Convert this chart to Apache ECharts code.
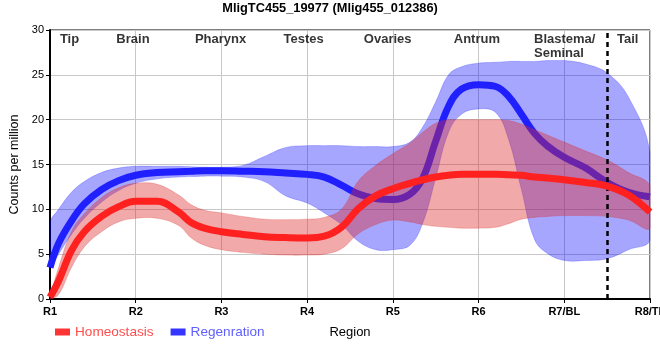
<!DOCTYPE html>
<html>
<head>
<meta charset="utf-8">
<script src="https://cdn.jsdelivr.net/npm/echarts@6/dist/echarts.min.js"></script>
<style>html,body{margin:0;padding:0;background:#fff;}#c{width:660px;height:360px;}</style>
</head>
<body>
<div id="c"></div>
<script>
const titleText = 'MligTC455_19977 (Mlig455_012386)';
const tickLabels = ['R1','R2','R3','R4','R5','R6','R7/BL','R8/TL'];
const regionNames = ['Tip','Brain','Pharynx','Testes','Ovaries','Antrum','Blastema/\nSeminal','Tail'];
const regionPos = [1.228,1.968,2.99,3.96,4.94,5.98,6.647,7.74];
const regionLabelY = 29.75;
const dividerX = 7.5;

const xs = [1,1.1,1.25,1.4,1.6,1.8, 2,2.25,2.5,2.65,2.8, 3,3.25,3.5,3.75, 4,4.2,4.4,4.6,4.8, 5,5.2,5.35,5.5,5.65,5.8, 6,6.2,6.35,6.5,6.65,6.8, 7,7.25,7.5,7.75, 8];

const homMean  = [0.2,2.0,5.4,7.5,9.2,10.3, 10.9,10.9,9.7,8.5,7.9, 7.5,7.2,6.95,6.85, 6.8,7.0,8.0,10.1,11.5, 12.3,12.9,13.3,13.6,13.8,13.9, 13.9,13.9,13.85,13.8,13.6,13.5, 13.3,13.0,12.6,11.6, 9.7];
const homUpper = [0.2,3.5,7.5,9.5,11.3,12.4, 12.9,12.8,11.6,10.5,9.9, 9.6,9.2,8.9,8.85, 8.9,9.1,10.0,13.2,14.9, 16.2,17.4,18.6,19.6,20.0,20.0, 20.0,20.0,19.9,19.5,18.9,18.3, 17.5,16.5,15.5,14.1, 12.6];
const homLower = [0.0,0.5,3.5,5.8,7.5,8.6, 9.0,9.0,8.2,6.8,6.0, 5.5,5.2,5.0,4.9, 4.9,5.0,5.6,7.3,8.3, 8.8,8.6,8.3,8.1,8.0,7.9, 7.9,8.0,8.4,8.9,9.1,9.2, 9.3,9.3,9.2,8.8, 7.9];

const regMean  = [3.5,6.2,8.7,10.6,12.2,13.2, 13.8,14.1,14.2,14.25,14.3, 14.3,14.25,14.2,14.05, 13.9,13.6,12.7,11.7,11.2, 11.1,11.7,13.5,17.6,21.5,23.4, 23.9,23.7,22.6,20.6,18.5,17.1, 15.8,14.6,13.0,11.9, 11.4];
const regUpper = [8.5,10.0,11.9,13.1,14.1,14.6, 14.8,14.8,14.8,14.75,14.7, 14.7,14.9,15.9,16.9, 17.1,17.1,17.1,17.0,17.0, 17.0,17.5,19.2,22.0,25.0,25.9, 26.3,26.4,26.5,26.5,26.5,26.6, 26.6,26.2,25.2,22.5, 16.3];
const regLower = [3.5,5.0,7.2,9.0,10.8,12.1, 12.9,13.4,13.6,13.65,13.7, 13.7,13.6,13.1,11.5, 10.7,9.6,8.3,6.4,5.5, 5.5,6.0,8.5,13.5,18.6,20.6, 21.2,20.8,17.8,12.2,6.7,5.1, 4.3,4.3,4.5,5.5, 6.6];

const pair = arr => xs.map((x,i)=>[x, arr[i]]);

const RED = '#FF2020', BLUE = '#2020FF';
const SM = 0.4;
const FONT = 'Liberation Sans, Arial, sans-serif';

function bandSeries(name, lower, upper, fill, stroke, z) {
  return {
    name: name, type: 'custom', z: z, silent: true,
    data: xs.map((x,i)=>[x, lower[i], upper[i]]),
    encode: {x: 0, y: [1, 2]},
    renderItem: function (params, api) {
      if (params.dataIndex !== 0) return null;
      const pts = [];
      for (let i = 0; i < xs.length; i++) pts.push(api.coord([xs[i], upper[i]]));
      for (let i = xs.length - 1; i >= 0; i--) pts.push(api.coord([xs[i], lower[i]]));
      let minX = Infinity, minY = Infinity, maxX = -Infinity, maxY = -Infinity;
      pts.forEach(p => { minX = Math.min(minX, p[0]); minY = Math.min(minY, p[1]); maxX = Math.max(maxX, p[0]); maxY = Math.max(maxY, p[1]); });
      return {
        type: 'polygon',
        shape: {points: pts, smooth: SM, smoothConstraint: [[minX, minY], [maxX, maxY]]},
        style: {fill: fill, stroke: stroke, lineWidth: 1}
      };
    }
  };
}

const chart = echarts.init(document.getElementById('c'), null, {renderer:'canvas'});
chart.setOption({
  animation: false,
  backgroundColor: '#fff',
  title: {text: titleText, left: 'center', top: 2, padding: 0,
    textStyle:{fontFamily: FONT, fontSize:12.8, fontWeight:'bold', color:'#000'}},
  grid: {left: 50, right: 10, top: 30, bottom: 61, outerBoundsMode: 'none', containLabel: false,
    show: true, borderColor: '#000', borderWidth: 1, backgroundColor:'transparent'},
  legend: {
    left: 50, top: 320, icon: 'rect', itemWidth: 15, itemHeight: 7, itemGap: 17,
    textStyle: {fontFamily: FONT, fontSize: 13.6},
    data: [
      {name:'Homeostasis', textStyle:{color:'#FF4D4D'}},
      {name:'Regenration', textStyle:{color:'#5F5FFF'}}
    ]
  },
  xAxis: {
    type: 'value', min: 1, max: 8, interval: 1,
    name: 'Region', nameLocation: 'middle', nameGap: 27,
    nameTextStyle: {fontFamily: FONT, fontSize: 13, color:'#000'},
    axisLine: {lineStyle:{color:'#000', width:2}},
    axisTick: {show:true, length:4, lineStyle:{color:'#000', width:1}},
    axisLabel: {color:'#000', fontFamily: FONT, fontSize: 11, fontWeight:'bold', margin: 7,
      hideOverlap: false, showMaxLabel: true, showMinLabel: true,
      formatter: v => tickLabels[Math.round(v)-1] || ''},
    splitLine: {show:true, lineStyle:{color:'#C8C8C8', width:1}}
  },
  yAxis: {
    type: 'value', min: 0, max: 30, interval: 5,
    name: 'Counts per million', nameLocation: 'middle', nameGap: 24,
    nameTextStyle: {fontFamily: FONT, fontSize: 12.5, color:'#000'},
    axisLine: {show:true, lineStyle:{color:'#000', width:2}},
    axisTick: {show:true, length:4, lineStyle:{color:'#000', width:1}},
    axisLabel: {color:'#000', fontFamily: FONT, fontSize: 11, margin: 6},
    splitLine: {show:true, lineStyle:{color:'#C8C8C8', width:1}}
  },
  series: [
    bandSeries('regBand', regLower, regUpper, 'rgba(0,0,255,0.35)', 'rgba(0,0,255,0.2)', 2),
    {name:'Regenration', type:'line', data: pair(regMean), smooth: SM, showSymbol:false,
      lineStyle:{width:7, color:BLUE}, itemStyle:{color:'#3535FF'}, z:3},
    bandSeries('homBand', homLower, homUpper, 'rgba(220,40,40,0.4)', 'rgba(220,40,40,0.25)', 4),
    {name:'Homeostasis', type:'line', data: pair(homMean), smooth: SM, showSymbol:false,
      lineStyle:{width:7, color:RED}, itemStyle:{color:'#FF3535'}, z:5,
      markLine: {silent:true, symbol:['none','none'], label:{show:false},
        lineStyle:{color:'#000', width:2.5, type:[5,4]},
        data:[{xAxis: dividerX}]}},
    {name:'regions', type:'scatter', symbolSize: 0, z: 6, silent: true,
      data: regionPos.map((p,i)=>({value:[p, regionLabelY], label:{formatter: regionNames[i], align: i===6 ? 'left' : 'center'}})),
      label: {show:true, position:'inside', verticalAlign:'top', color:'#000', fontFamily: FONT, fontSize:13, fontWeight:'bold', lineHeight:14}}
  ]
});
</script>
</body>
</html>
